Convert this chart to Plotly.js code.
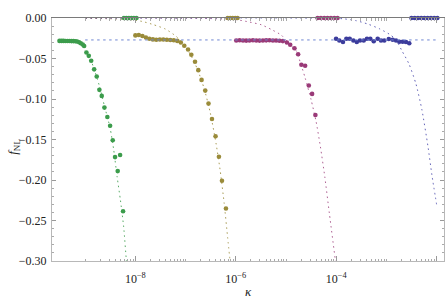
<!DOCTYPE html>
<html>
<head>
<meta charset="utf-8">
<script src="https://cdn.plot.ly/plotly-3.0.1.min.js"></script>
<style>html,body{margin:0;padding:0;background:#fff;}#chart{width:446px;height:300px;}</style>
</head>
<body>
<div id="chart"></div>
<script>
// ---- data ----
// green series (points)
const greenK = [3.08e-10,3.38e-10,3.71e-10,4.06e-10,4.45e-10,4.88e-10,5.35e-10,5.85e-10,6.41e-10,6.93e-10,7.60e-10,8.18e-10,8.95e-10,9.55e-10,1.06e-9,1.18e-9,1.32e-9,1.51e-9,1.70e-9,1.92e-9,2.14e-9,2.42e-9,2.77e-9,3.14e-9,3.54e-9,3.94e-9,4.45e-9,4.97e-9,5.69e-9];
const greenF = [-0.0283,-0.0283,-0.0283,-0.0284,-0.0284,-0.0284,-0.0285,-0.0285,-0.0287,-0.0291,-0.0300,-0.0312,-0.0328,-0.0345,-0.0426,-0.0467,-0.0528,-0.0634,-0.0723,-0.0887,-0.0962,-0.1106,-0.1222,-0.1330,-0.1510,-0.1717,-0.1890,-0.1692,-0.2385];
const greenZeroK = [5.91e-9,6.62e-9,7.43e-9,8.32e-9,9.34e-9,1.05e-8];
const greenCurveK = [1.0e-9,1.16e-9,1.46e-9,1.92e-9,2.42e-9,3.14e-9,3.71e-9,4.33e-9,5.04e-9,5.85e-9,6.62e-9,6.93e-9];
const greenCurveF = [-0.0405,-0.0454,-0.0603,-0.0838,-0.1085,-0.1358,-0.1630,-0.1960,-0.2249,-0.2579,-0.2991,-0.3090];

// olive series
const oliveK = [1.00e-8,1.17e-8,1.38e-8,1.62e-8,1.90e-8,2.23e-8,2.61e-8,3.07e-8,3.60e-8,4.23e-8,4.96e-8,5.82e-8,6.84e-8,8.03e-8,9.42e-8,1.12e-7,1.30e-7,1.54e-7,1.79e-7,2.08e-7,2.46e-7,2.86e-7,3.35e-7,3.95e-7,4.61e-7,5.30e-7,6.36e-7];
const oliveF = [-0.0215,-0.0209,-0.0223,-0.0241,-0.0256,-0.0264,-0.0269,-0.0266,-0.0266,-0.0269,-0.0271,-0.0275,-0.0283,-0.0302,-0.0343,-0.0389,-0.0454,-0.0541,-0.0644,-0.0764,-0.0896,-0.1057,-0.1246,-0.1460,-0.1713,-0.2010,-0.2351];
const oliveZeroK = [6.90e-7,7.74e-7,8.68e-7,9.73e-7,1.08e-6];
const oliveCurveK = [1.01e-9,3.18e-9,7.96e-9,1.36e-8,2.31e-8,3.95e-8,6.44e-8,9.00e-8,1.24e-7,1.71e-7,2.36e-7,3.10e-7,4.07e-7,4.90e-7,5.87e-7,6.90e-7,7.74e-7];
const oliveCurveF = [-0.0003,-0.0010,-0.0022,-0.0042,-0.0083,-0.0136,-0.0225,-0.0320,-0.0448,-0.0628,-0.0878,-0.117,-0.156,-0.189,-0.229,-0.272,-0.302];

// magenta series
const magentaK = [1.02e-6,1.19e-6,1.39e-6,1.61e-6,1.87e-6,2.19e-6,2.55e-6,2.96e-6,3.46e-6,4.02e-6,4.68e-6,5.47e-6,6.35e-6,7.40e-6,8.64e-6,1.04e-5,1.21e-5,1.47e-5,1.74e-5,2.02e-5,2.40e-5,2.84e-5,3.30e-5,3.84e-5];
const magentaF = [-0.0277,-0.0275,-0.0277,-0.0279,-0.0277,-0.0275,-0.0277,-0.0279,-0.0277,-0.0276,-0.0275,-0.0277,-0.0278,-0.0281,-0.0285,-0.0302,-0.0330,-0.0374,-0.0448,-0.0578,-0.0590,-0.0834,-0.0937,-0.1197];
const magentaZeroK = [4.25e-5,4.94e-5,5.77e-5,6.71e-5,7.82e-5,9.12e-5,1.06e-4];
const magentaCurveK = [1.01e-9,1.26e-8,1.96e-7,1.02e-6,1.87e-6,3.20e-6,5.22e-6,8.00e-6,1.05e-5,1.32e-5,1.59e-5,1.91e-5,2.40e-5,3.16e-5,3.97e-5,4.83e-5,5.91e-5,7.29e-5,9.59e-5,1.01e-4];
const magentaCurveF = [-0.00002,-0.00005,-0.0004,-0.0021,-0.0050,-0.0083,-0.0145,-0.0210,-0.0287,-0.0355,-0.0405,-0.0541,-0.0739,-0.1011,-0.1280,-0.1589,-0.1960,-0.2413,-0.2991,-0.3100];

// blue series
const blueK = [9.91e-5,1.15e-4,1.36e-4,1.59e-4,1.85e-4,2.19e-4,2.56e-4,2.97e-4,3.52e-4,4.09e-4,4.76e-4,5.57e-4,6.68e-4,7.78e-4,9.04e-4,1.11e-3,1.33e-3,1.55e-3,1.80e-3,2.10e-3,2.44e-3,2.84e-3];
const blueF = [-0.0256,-0.0277,-0.0297,-0.0256,-0.0256,-0.0277,-0.0297,-0.0277,-0.0277,-0.0256,-0.0256,-0.0287,-0.0256,-0.0277,-0.0277,-0.0260,-0.0269,-0.0277,-0.0293,-0.0293,-0.0297,-0.0312];
const blueZeroK = [3.14e-3,3.65e-3,4.23e-3,4.91e-3,5.69e-3,6.61e-3,7.67e-3,8.89e-3,1.03e-2];
const blueCurveK = [1.01e-9,1.91e-5,1.35e-4,2.48e-4,4.23e-4,7.19e-4,1.14e-3,1.55e-3,2.03e-3,2.80e-3,3.86e-3,5.08e-3,6.68e-3,8.03e-3,1.0e-2];
const blueCurveF = [-0.00001,-0.0001,-0.0009,-0.0033,-0.0074,-0.0132,-0.0200,-0.0269,-0.0405,-0.0566,-0.0813,-0.1135,-0.1581,-0.1940,-0.2311];

// horizontal reference level
const refK = [1e-9, 1e-2];
const refF = [-0.0271, -0.0271];

// axis ticks and titles
const xTickVals = [1e-8, 1e-6, 1e-4, 1e-2];
const xTickText = ['10<sup>\u22128</sup>', '10<sup>\u22126</sup>', '10<sup>\u22124</sup>', '0.01'];
const yTickVals = [0, -0.05, -0.10, -0.15, -0.20, -0.25, -0.30];
const yTickText = ['0.00', '\u22120.05', '\u22120.10', '\u22120.15', '\u22120.20', '\u22120.25', '\u22120.30'];
const xTitle = '<i>\u03ba</i>';
const yTitle = '<i>f</i><sub>NL</sub>';

// ---- styling ----
const colors = {green:'#3c9c4c', olive:'#9a8b3a', magenta:'#9a3a78', blue:'#3c3c9c'};
const lineCols = {green:'rgba(60,156,76,0.85)', olive:'rgba(154,139,58,0.85)', magenta:'rgba(154,58,120,0.8)', blue:'rgba(70,70,170,0.85)'};

const xMinor = [];
for (let n = -9; n <= -3; n++) {
  for (let k = 1; k <= 9; k++) {
    const v = k * Math.pow(10, n);
    if (!(k === 1 && (n === -8 || n === -6 || n === -4))) xMinor.push(+v.toPrecision(3));
  }
}
const yMinor = [];
for (let i = 1; i < 30; i++) { if (i % 5 !== 0) yMinor.push(-i / 100); }

const series = [
  ['green', greenK, greenF, greenZeroK, greenCurveK, greenCurveF],
  ['olive', oliveK, oliveF, oliveZeroK, oliveCurveK, oliveCurveF],
  ['magenta', magentaK, magentaF, magentaZeroK, magentaCurveK, magentaCurveF],
  ['blue', blueK, blueF, blueZeroK, blueCurveK, blueCurveF]
];

const traces = [];
traces.push({x: refK, y: refF, xaxis: 'x2', yaxis: 'y', mode: 'lines', line: {color: '#6f86d2', width: 1, dash: '2.5px,3.5px'}, hoverinfo: 'skip'});
series.forEach(s => {
  traces.push({x: s[4], y: s[5], mode: 'lines', line: {color: lineCols[s[0]], width: 1, dash: '1.5px,3.5px', shape: 'spline', smoothing: 0.6}, hoverinfo: 'skip'});
});
series.forEach(s => {
  traces.push({x: s[1], y: s[2], mode: 'markers', marker: {color: colors[s[0]], size: 4.6, line: {width: 0}}});
  traces.push({x: s[3], y: s[3].map(() => 0), mode: 'markers', cliponaxis: false, marker: {color: colors[s[0]], size: 4.6, line: {width: 0}}});
});

const xr = [-9.66, -1.855];
const serif = 'Liberation Serif';
const layout = {
  width: 446, height: 300,
  margin: {l: 52, r: 2, t: 18, b: 39},
  paper_bgcolor: '#fff', plot_bgcolor: '#fff',
  showlegend: false,
  font: {family: serif, size: 12, color: '#222'},
  xaxis: {
    type: 'log', range: xr, showgrid: false, zeroline: false,
    showline: true, linecolor: '#b8b8b8', linewidth: 1, mirror: false,
    ticks: 'inside', ticklen: 5, tickcolor: '#999', tickwidth: 1,
    tickmode: 'array', tickvals: xTickVals, ticktext: xTickText,
    tickfont: {family: serif, size: 12, color: '#222'},
    ticklabelstandoff: 7,
    minor: {tickmode: 'array', tickvals: xMinor, ticks: 'inside', ticklen: 2.5, tickcolor: '#aaa', showgrid: false}
  },
  xaxis2: {
    type: 'log', range: xr, overlaying: 'x', side: 'top', anchor: 'y',
    showgrid: false, zeroline: false, showline: true, linecolor: '#7a7a7a', linewidth: 1,
    ticks: 'inside', ticklen: 5, tickcolor: '#999', tickwidth: 1,
    tickmode: 'array', tickvals: xTickVals, showticklabels: false,
    minor: {tickmode: 'array', tickvals: xMinor, ticks: 'inside', ticklen: 2.5, tickcolor: '#aaa', showgrid: false}
  },
  yaxis: {
    range: [-0.30, 0], showgrid: false, zeroline: false,
    showline: true, linecolor: '#b8b8b8', linewidth: 1, mirror: 'ticks',
    ticks: 'inside', ticklen: 4, tickcolor: '#999', tickwidth: 1,
    tickmode: 'array', tickvals: yTickVals, ticktext: yTickText,
    tickfont: {family: serif, size: 12, color: '#222'},
    ticklabelstandoff: 2,
    minor: {tickmode: 'array', tickvals: yMinor, ticks: 'inside', ticklen: 2, tickcolor: '#aaa', showgrid: false}
  },
  annotations: [
    {text: xTitle, xref: 'paper', yref: 'paper', x: 0.5, y: -0.125, xanchor: 'center', yanchor: 'middle', showarrow: false, font: {family: serif, size: 13, color: '#222'}},
    {text: yTitle, xref: 'paper', yref: 'paper', x: -0.097, y: 0.47, xanchor: 'center', yanchor: 'middle', textangle: -90, showarrow: false, font: {family: serif, size: 13, color: '#222'}}
  ]
};

Plotly.newPlot('chart', traces, layout, {staticPlot: true, displayModeBar: false});
</script>
</body>
</html>
